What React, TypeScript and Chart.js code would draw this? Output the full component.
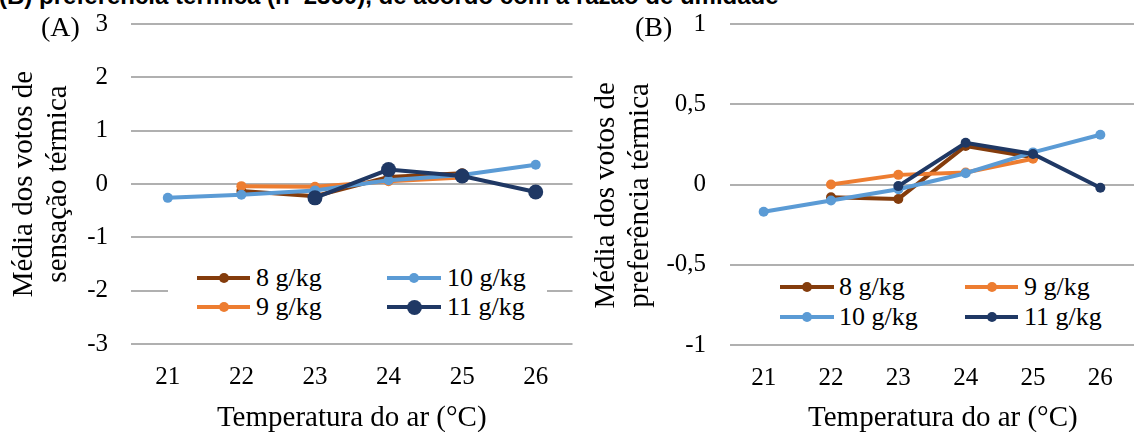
import React, { useEffect, useRef } from "react";
import { Chart, registerables } from "chart.js";

Chart.register(...registerables);

// ---------- data ----------
const categories = ["21", "22", "23", "24", "25", "26"];
const seriesNames = ["8 g/kg", "9 g/kg", "10 g/kg", "11 g/kg"];
const seriesColors = ["#843C0C", "#ED7D31", "#5B9BD5", "#1F3864"];

const sensation8 = [null, -0.13, -0.23, 0.13, 0.2, null];
const sensation9 = [null, -0.04, -0.05, 0.05, 0.12, null];
const sensation10 = [-0.26, -0.2, -0.12, 0.07, 0.17, 0.36];
const sensation11 = [null, null, -0.26, 0.27, 0.15, -0.15];

const preference8 = [null, -0.08, -0.09, 0.24, 0.17, null];
const preference9 = [null, 0.0, 0.06, 0.075, 0.16, null];
const preference10 = [-0.17, -0.1, -0.03, 0.07, 0.2, 0.31];
const preference11 = [null, null, -0.01, 0.26, 0.19, -0.02];

const sensationTicks = [-3, -2, -1, 0, 1, 2, 3];
const preferenceTicks = [-1, -0.5, 0, 0.5, 1];

const SERIF = "'Liberation Serif', 'Times New Roman', serif";
const SANS = "'Liberation Sans', Arial, sans-serif";
const GRID = "#b0b0b0";

type PanelProps = {
  left: number;
  width: number;
  height: number;
  plotLeft: number;
  plotRight: number;
  plotTop: number;
  plotBottom: number;
  series: (number | null)[][];
  pointRadii: number[];
  lineWidths: number[];
  yMin: number;
  yMax: number;
  yTicks: number[];
  fmt: (v: number) => string;
  yTitle: string[];
  yTitlePadTop: number;
  yTickPad: number;
  xTitle: string;
  xTitlePadBottom: number;
};

function Panel(p: PanelProps) {
  const ref = useRef<HTMLCanvasElement | null>(null);
  useEffect(() => {
    const canvas = ref.current;
    if (!canvas) return;
    const chart = new Chart(canvas, {
      type: "line",
      data: {
        labels: categories,
        datasets: p.series.map((vals, i) => ({
          label: seriesNames[i],
          data: vals,
          borderColor: seriesColors[i],
          backgroundColor: seriesColors[i],
          borderWidth: p.lineWidths[i],
          pointRadius: p.pointRadii[i],
          pointHoverRadius: p.pointRadii[i],
          pointBorderWidth: 0,
          pointBackgroundColor: seriesColors[i],
          tension: 0,
          order: 3 - i,
        })),
      },
      options: {
        responsive: false,
        animation: false,
        events: [],
        layout: {
          padding: { left: 0, top: p.plotTop, right: p.width - p.plotRight, bottom: 0 },
        },
        plugins: {
          legend: { display: false },
          tooltip: { enabled: false },
          title: { display: false },
        },
        scales: {
          x: {
            type: "category",
            offset: true,
            grid: { display: false, drawTicks: false },
            border: { display: false },
            ticks: {
              color: "#000",
              font: { family: SERIF, size: 25 },
              padding: 18,
              maxRotation: 0,
              autoSkip: false,
            },
            title: {
              display: true,
              text: p.xTitle,
              color: "#000",
              font: { family: SERIF, size: 29, lineHeight: 1.2 },
              padding: { top: 0, bottom: p.xTitlePadBottom },
            },
            afterFit: (s: any) => {
              s.height = p.height - p.plotBottom;
              s.paddingLeft = 0;
              s.paddingRight = 0;
            },
          },
          y: {
            type: "linear",
            min: p.yMin,
            max: p.yMax,
            afterBuildTicks: (s: any) => {
              s.ticks = p.yTicks.map((v) => ({ value: v }));
            },
            grid: { color: GRID, lineWidth: 2, drawTicks: false },
            border: { display: false },
            ticks: {
              color: "#000",
              font: { family: SERIF, size: 25 },
              padding: p.yTickPad,
              callback: (v: any) => p.fmt(Number(v)),
            },
            title: {
              display: true,
              text: p.yTitle,
              color: "#000",
              font: { family: SERIF, size: 29, lineHeight: "34px" },
              padding: { top: p.yTitlePadTop, bottom: 0 },
            },
            afterFit: (s: any) => {
              s.width = p.plotLeft;
              s.paddingTop = 0;
              s.paddingBottom = 0;
            },
          },
        },
      } as any,
    });
    return () => chart.destroy();
  }, []);
  return (
    <canvas
      ref={ref}
      width={p.width}
      height={p.height}
      style={{ position: "absolute", left: p.left, top: 0, width: p.width, height: p.height }}
    />
  );
}

type LegendItem = { idx: number; lineX0: number; lineX1: number; textX: number; y: number; r: number };

function Legend({ items, box }: { items: LegendItem[]; box: { x0: number; x1: number; y0: number; y1: number } }) {
  return (
    <>
      <div
        style={{
          position: "absolute",
          left: box.x0,
          top: box.y0,
          width: box.x1 - box.x0,
          height: box.y1 - box.y0,
          background: "#fff",
        }}
      />
      {items.map((it, k) => (
        <React.Fragment key={k}>
          <div
            style={{
              position: "absolute",
              left: it.lineX0,
              top: it.y - 2,
              width: it.lineX1 - it.lineX0,
              height: 4,
              background: seriesColors[it.idx],
            }}
          />
          <div
            style={{
              position: "absolute",
              left: (it.lineX0 + it.lineX1) / 2 - it.r,
              top: it.y - it.r,
              width: it.r * 2,
              height: it.r * 2,
              borderRadius: "50%",
              background: seriesColors[it.idx],
            }}
          />
          <div
            style={{
              position: "absolute",
              left: it.textX,
              top: it.y - 15,
              height: 30,
              lineHeight: "30px",
              fontFamily: SERIF,
              fontSize: 26,
              color: "#000",
              whiteSpace: "nowrap",
            }}
          >
            {seriesNames[it.idx]}
          </div>
        </React.Fragment>
      ))}
    </>
  );
}

export default function App() {
  const legendA: LegendItem[] = [
    { idx: 0, lineX0: 197, lineX1: 250, textX: 256, y: 278, r: 5 },
    { idx: 2, lineX0: 387, lineX1: 441, textX: 447, y: 278, r: 5 },
    { idx: 1, lineX0: 197, lineX1: 250, textX: 256, y: 307, r: 5 },
    { idx: 3, lineX0: 387, lineX1: 441, textX: 447, y: 307, r: 7.5 },
  ];
  const legendB: LegendItem[] = [
    { idx: 0, lineX0: 780, lineX1: 834, textX: 839, y: 287, r: 5 },
    { idx: 1, lineX0: 965, lineX1: 1018, textX: 1024, y: 287, r: 5 },
    { idx: 2, lineX0: 780, lineX1: 834, textX: 839, y: 317, r: 5 },
    { idx: 3, lineX0: 965, lineX1: 1018, textX: 1024, y: 317, r: 5 },
  ];
  return (
    <div
      style={{
        position: "fixed",
        left: 0,
        top: 0,
        width: 1139,
        height: 432,
        overflow: "hidden",
        background: "#fff",
      }}
    >
      <div
        style={{
          position: "absolute",
          left: -1,
          top: -16,
          lineHeight: "24px",
          fontFamily: SANS,
          fontWeight: "bold",
          fontSize: 24,
          color: "#000",
          whiteSpace: "nowrap",
        }}
      >
        (B) preferência térmica (n=2360), de acordo com a razão de umidade
      </div>
      <Panel
        left={0}
        width={580}
        height={450}
        plotLeft={131}
        plotRight={573}
        plotTop={24}
        plotBottom={344}
        series={[sensation8, sensation9, sensation10, sensation11]}
        pointRadii={[5, 5, 5, 7.5]}
        lineWidths={[4, 4, 4, 4]}
        yMin={-3}
        yMax={3}
        yTicks={sensationTicks}
        fmt={(v) => String(v)}
        yTitle={["Média dos votos de", "sensação térmica"]}
        yTitlePadTop={7}
        yTickPad={23}
        xTitle="Temperatura do ar (°C)"
        xTitlePadBottom={14}
      />
      <Panel
        left={580}
        width={559}
        height={450}
        plotLeft={150}
        plotRight={559}
        plotTop={24}
        plotBottom={345}
        series={[preference8, preference9, preference10, preference11]}
        pointRadii={[5, 5, 5, 5]}
        lineWidths={[4, 4, 4, 4]}
        yMin={-1}
        yMax={1}
        yTicks={preferenceTicks}
        fmt={(v) => String(v).replace(".", ",")}
        yTitle={["Média dos votos de   ", "preferência térmica   "]}
        yTitlePadTop={9}
        yTickPad={24}
        xTitle="   Temperatura do ar (°C)"
        xTitlePadBottom={14}
      />
      <div
        style={{
          position: "absolute",
          left: 41,
          top: 13,
          lineHeight: "28px",
          fontFamily: SERIF,
          fontSize: 28,
          color: "#000",
        }}
      >
        (A)
      </div>
      <div
        style={{
          position: "absolute",
          left: 635,
          top: 13,
          lineHeight: "28px",
          fontFamily: SERIF,
          fontSize: 28,
          color: "#000",
        }}
      >
        (B)
      </div>
      <Legend items={legendA} box={{ x0: 168, x1: 547, y0: 262, y1: 323 }} />
      <Legend items={legendB} box={{ x0: 760, x1: 1120, y0: 270, y1: 333 }} />
    </div>
  );
}
